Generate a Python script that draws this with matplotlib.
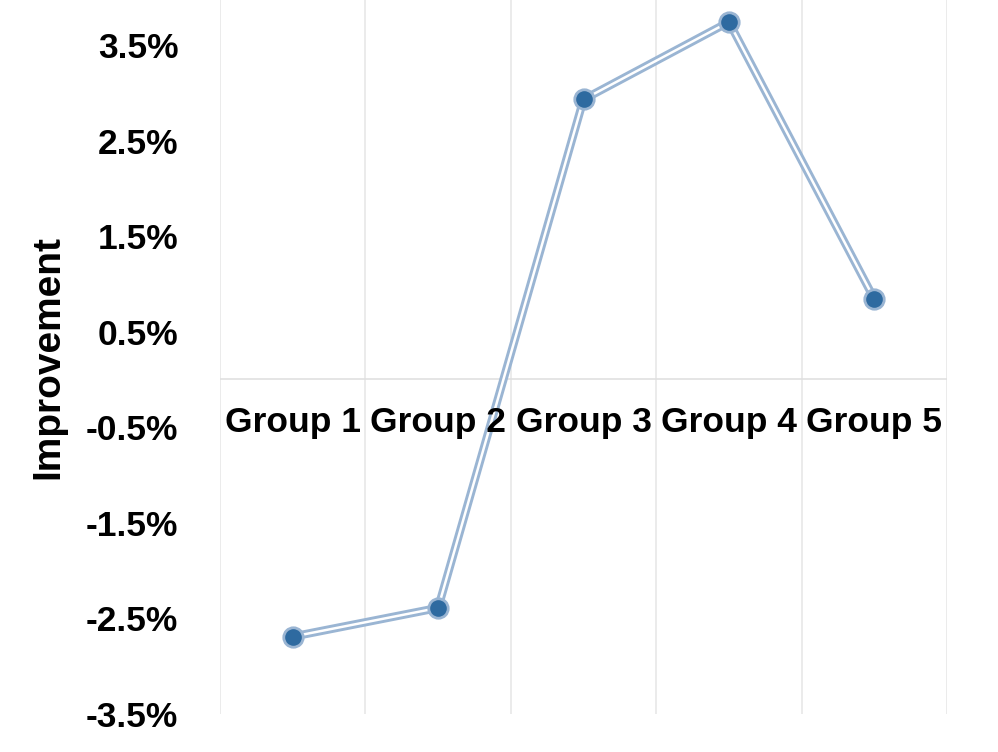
import matplotlib.pyplot as plt
import numpy as np

groups = ['Group 1', 'Group 2', 'Group 3', 'Group 4', 'Group 5']
improvement = [-2.69, -2.39, 2.93, 3.74, 0.84]
y_ticks = [-3.5, -2.5, -1.5, -0.5, 0.5, 1.5, 2.5, 3.5]

plt.rcParams['font.family'] = ['Liberation Sans', 'DejaVu Sans']
plt.rcParams['font.weight'] = 'bold'

fig = plt.figure(figsize=(9.98, 7.52), dpi=100)
ax = fig.add_axes([0.2204, 0.0505, 0.7286, 0.9495])

x = np.arange(len(groups)) + 0.5
for gx in range(len(groups) + 1):
    ax.axvline(gx, color='#e8e8e8', lw=1.2, zorder=0)
ax.axhline(0, color='#e0e0e0', lw=1.2, zorder=0)

ax.plot(x, improvement, color='#9ab5d3', lw=6, solid_capstyle='round', zorder=2)
ax.plot(x, improvement, color='white', lw=1.8, zorder=3)
ax.plot(x, improvement, 'o', ms=14, mfc='#2e6aa0', mec='#9ab5d3', mew=2, zorder=4)

for xi, g in zip(x, groups):
    ax.text(xi, -0.28, g, ha='center', va='top', fontsize=25.5, fontweight='bold')

ax.set_xlim(0, len(groups))
ax.set_ylim(-3.5, 3.97)
ax.set_xticks([])
ax.set_yticks(y_ticks)
ax.set_yticklabels([f'{t:.1f}%' for t in y_ticks], fontsize=25.5, fontweight='bold')
ax.tick_params(axis='y', length=0, pad=30)
ax.set_ylabel('Improvement', fontsize=28, fontweight='bold', labelpad=14)
for s in ax.spines.values():
    s.set_visible(False)

fig.savefig('out.png', dpi=100)
